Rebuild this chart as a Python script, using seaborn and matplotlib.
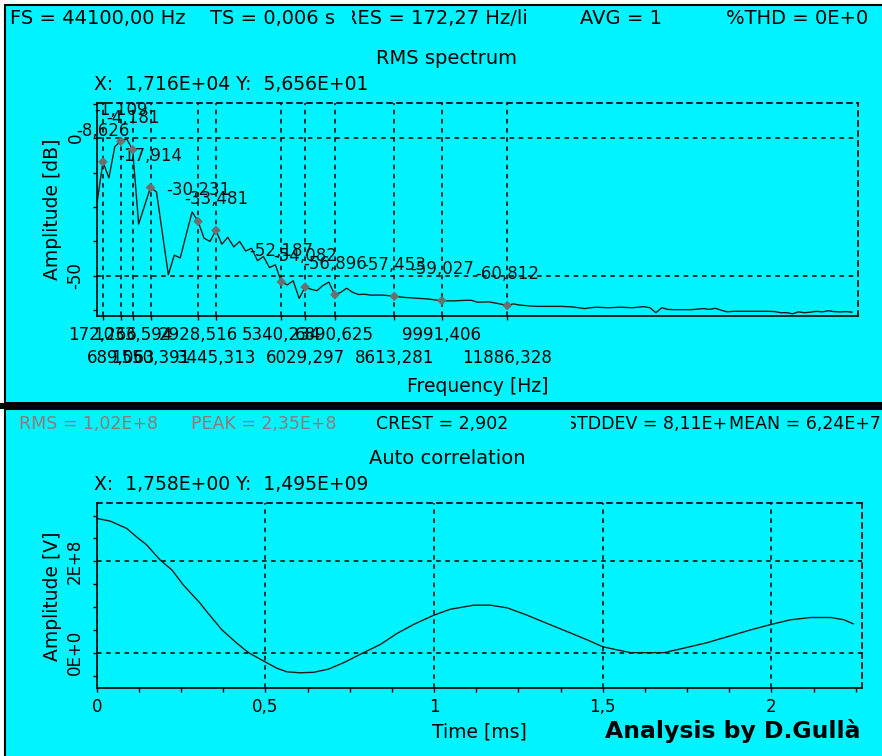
import numpy as np
import pandas as pd
import matplotlib
matplotlib.use("Agg")
import matplotlib.pyplot as plt
import seaborn as sns
from matplotlib.patches import Rectangle
from matplotlib.transforms import Bbox
from matplotlib.ticker import MultipleLocator, FixedLocator, FixedFormatter

# ---------------- data ----------------
fs = 44100.0
n_fft = 256

# RMS spectrum in dB, one value per FFT bin (0 .. 127)
spectrum_db = [
    -23.5, -8.626, -14.4, -3.0, -1.109, -0.3, -4.181, -31.2,
    -24.5, -17.914, -19.5, -34.5, -49.6, -42.5, -43.5, -35.0,
    -26.8, -30.231, -36.3, -37.5, -33.481, -38.5, -36.0, -39.5,
    -37.5, -41.0, -40.0, -44.5, -43.0, -47.0, -46.0, -52.187,
    -53.3, -51.8, -58.2, -54.082, -54.9, -55.4, -53.5, -52.3,
    -56.896, -56.0, -54.5, -56.0, -56.8, -56.7, -57.0, -57.0,
    -57.0, -57.2, -57.453, -57.7, -57.9, -58.0, -58.2, -58.3,
    -58.5, -58.8, -59.027, -59.1, -59.1, -59.0, -58.9, -58.9,
    -59.6, -59.5, -59.5, -59.9, -60.3, -60.812, -60.2, -60.6,
    -60.8, -61.0, -61.1, -61.1, -61.1, -61.1, -61.1, -61.2,
    -61.3, -61.6, -61.9, -61.6, -61.4, -61.5, -61.6, -61.5,
    -61.4, -61.5, -61.6, -61.4, -61.2, -61.6, -63.4, -61.6,
    -62.2, -62.3, -62.3, -62.3, -62.3, -62.1, -61.9, -62.2,
    -61.8, -62.5, -63.1, -62.9, -62.9, -62.9, -62.9, -62.9,
    -62.9, -62.9, -63.0, -63.4, -63.4, -63.8, -63.1, -63.4,
    -63.2, -62.9, -63.1, -62.7, -63.0, -63.1, -63.0, -63.2,
]

# marked harmonics: bin index and level in dB
marker_bins = [1, 4, 6, 9, 17, 20, 31, 35, 40, 50, 58, 69]
marker_db = [-8.626, -1.109, -4.181, -17.914, -30.231, -33.481,
             -52.187, -54.082, -56.896, -57.453, -59.027, -60.812]
marker_freq_labels = ["172,266", "689,063", "1033,594", "1550,391",
                      "2928,516", "3445,313", "5340,234", "6029,297",
                      "6890,625", "8613,281", "9991,406", "11886,328"]

# auto correlation: lag time [ms] and amplitude [x 1E+8]
acf_time_ms = [0.0, 0.04, 0.089, 0.119, 0.148, 0.188, 0.223, 0.257, 0.307,
               0.326, 0.371, 0.415, 0.45, 0.494, 0.534, 0.564, 0.603, 0.643,
               0.687, 0.732, 0.791, 0.841, 0.89, 0.94, 0.999, 1.048, 1.118,
               1.167, 1.217, 1.276, 1.335, 1.395, 1.454, 1.5, 1.543, 1.583,
               1.681, 1.741, 1.81, 1.879, 1.939, 2.0, 2.057, 2.117, 2.176,
               2.215, 2.243]
acf_value_e8 = [2.94, 2.88, 2.72, 2.53, 2.36, 2.03, 1.81, 1.48, 1.08,
                0.90, 0.50, 0.21, 0.0, -0.18, -0.34, -0.42, -0.44, -0.43,
                -0.36, -0.22, 0.0, 0.18, 0.42, 0.62, 0.82, 0.95, 1.04,
                1.04, 0.98, 0.82, 0.64, 0.46, 0.28, 0.13, 0.06, 0.0,
                0.0, 0.10, 0.22, 0.37, 0.50, 0.62, 0.72, 0.77, 0.77,
                0.72, 0.63]

# header read-outs: text, x, alignment, colour, optional horizontal clip range
top_fields = [("FS = 44100,00 Hz", 186, "right", "black", None),
              ("TS = 0,006 s", 210, "left", "black", None),
              ("RES = 172,27 Hz/line", 344, "left", "black", (352, 527)),
              ("AVG = 1", 580, "left", "black", None),
              ("%THD = 0E+0", 726, "left", "black", None)]
stat_fields = [("RMS = 1,02E+8", 19, "left", "#8c7a7a", None),
               ("PEAK = 2,35E+8", 191, "left", "#8c7a7a", None),
               ("CREST = 2,902", 376, "left", "black", None),
               ("STDDEV = 8,11E+7", 566, "left", "black", (571, 728)),
               ("MEAN = 6,24E+7", 881, "right", "black", None)]

# ---------------- style ----------------
sns.set_theme(style="ticks")
plt.rcParams["font.family"] = ["DejaVu Sans"]
plt.rcParams["text.color"] = "black"
plt.rcParams["axes.labelcolor"] = "black"
plt.rcParams["xtick.color"] = "black"
plt.rcParams["ytick.color"] = "black"

CYAN = "#00F4FF"
LINE = "#1e1e1e"
W, H = 882, 756
FS_TICK = 12
FS_HEAD = 14
FS_STAT = 12.5
FS_LABEL = 13.5

fig = plt.figure(figsize=(W / 100, H / 100), dpi=100)
fig.patch.set_facecolor("white")


def fx(x):
    return x / W


def fy(y):
    return 1 - y / H


def panel(x0, y0, x1, y1, face, lw=1.5):
    fig.add_artist(Rectangle((fx(x0), fy(y1)), fx(x1) - fx(x0), fy(y0) - fy(y1),
                             transform=fig.transFigure, facecolor=face,
                             edgecolor="black", lw=lw, zorder=-2))


panel(5, 5, 892, 403, CYAN)
panel(0, 403, 892, 409, "black", lw=0)
panel(5, 409, 892, 760, CYAN)


def ftext(x, y, s, ha="left", color="black", clip=None, fontsize=FS_HEAD, **kw):
    t = fig.text(fx(x), fy(y), s, ha=ha, va="center", color=color,
                 fontsize=fontsize, **kw)
    if clip is not None:
        t.set_clip_box(Bbox.from_extents(clip[0], 0, clip[1], H))
        t.set_clip_on(True)
    return t


for s, x, ha, col, clip in top_fields:
    ftext(x, 18, s, ha=ha, color=col, clip=clip if clip else (3, W))
ftext(447, 58, "RMS spectrum", ha="center")
ftext(94, 85, "X:  1,716E+04 Y:  5,656E+01", fontsize=FS_LABEL)

for s, x, ha, col, clip in stat_fields:
    ftext(x, 424, s, ha=ha, color=col, clip=clip, fontsize=FS_STAT)
ftext(447, 458, "Auto correlation", ha="center")
ftext(94, 484, "X:  1,758E+00 Y:  1,495E+09", fontsize=FS_LABEL)
ftext(605, 731, "Analysis by D.Gullà", fontsize=16.9, fontweight="bold")


def style_axes(ax):
    ax.set_facecolor("none")
    for side in ("left", "bottom"):
        ax.spines[side].set_color("black")
        ax.spines[side].set_linewidth(1.2)
    for side in ("top", "right"):
        ax.spines[side].set_color("black")
        ax.spines[side].set_linewidth(1.2)
        ax.spines[side].set_linestyle((0, (3, 3)))
    ax.grid(True, which="major", color="black", lw=1.1, ls=(0, (3, 3)))
    ax.tick_params(axis="both", which="both", direction="out", length=3,
                   width=1, labelsize=FS_TICK)
    ax.tick_params(axis="x", pad=4)
    ax.tick_params(axis="y", pad=6)
    for lab in ax.get_yticklabels():
        lab.set_rotation(90)
        lab.set_va("center")


# ---------------- RMS spectrum ----------------
ax1 = fig.add_axes([fx(97), fy(316), fx(858) - fx(97), fy(103) - fy(316)])
spec = pd.DataFrame({"freq": np.arange(len(spectrum_db)) * fs / n_fft,
                     "db": spectrum_db})
marks = pd.DataFrame({"freq": np.array(marker_bins) * fs / n_fft,
                      "db": marker_db})
sns.lineplot(data=spec, x="freq", y="db", ax=ax1, color=LINE, lw=1.0)
sns.scatterplot(data=marks, x="freq", y="db", ax=ax1, marker="D", s=24,
                color="#6e6e6e", edgecolor="none", zorder=5)
for f, v in zip(marks["freq"], marks["db"]):
    ax1.annotate(f"{v:.3f}".replace(".", ","), (f, v), xytext=(0, 22.5),
                 textcoords="offset points", ha="center", va="center",
                 fontsize=FS_TICK, color="#111111", annotation_clip=False)
ax1.set_xlim(0, fs / 2)
ax1.set_ylim(-64.6, 12.8)
ax1.xaxis.set_major_locator(FixedLocator(marks["freq"].tolist()))
ax1.xaxis.set_major_formatter(FixedFormatter(
    [s if i % 2 == 0 else "\n" + s for i, s in enumerate(marker_freq_labels)]))
ax1.yaxis.set_major_locator(FixedLocator([-50, 0]))
ax1.yaxis.set_major_formatter(FixedFormatter(["-50", "0"]))
ax1.yaxis.set_minor_locator(MultipleLocator(12.5))
ax1.set_xlabel("Frequency [Hz]", fontsize=FS_LABEL)
ax1.set_ylabel("Amplitude [dB]", fontsize=FS_LABEL)
style_axes(ax1)
for lab in ax1.get_xticklabels():
    lab.set_linespacing(1.35)
ax1.xaxis.set_label_coords(0.5, (316 - 377) / (316 - 103))
ax1.yaxis.set_label_coords((62.5 - 97) / (858 - 97), 0.5)

# ---------------- auto correlation ----------------
ax2 = fig.add_axes([fx(96.7), fy(688.3), fx(861.7) - fx(96.7), fy(503.3) - fy(688.3)])
acf = pd.DataFrame({"t": acf_time_ms, "v": np.array(acf_value_e8) * 1e8})
sns.lineplot(data=acf, x="t", y="v", ax=ax2, color=LINE, lw=1.0)
ax2.set_xlim(0, 100 / fs * 1000)
ax2.set_ylim(-0.78e8, 3.27e8)
ax2.xaxis.set_major_locator(FixedLocator([0, 0.5, 1, 1.5, 2]))
ax2.xaxis.set_major_formatter(FixedFormatter(["0", "0,5", "1", "1,5", "2"]))
ax2.xaxis.set_minor_locator(MultipleLocator(0.125))
ax2.yaxis.set_major_locator(FixedLocator([0, 2e8]))
ax2.yaxis.set_major_formatter(FixedFormatter(["0E+0", "2E+8"]))
ax2.yaxis.set_minor_locator(MultipleLocator(0.5e8))
ax2.set_xlabel("Time [ms]", fontsize=FS_LABEL)
ax2.set_ylabel("Amplitude [V]", fontsize=FS_LABEL)
style_axes(ax2)
ax2.xaxis.set_label_coords(0.5, (688.3 - 723) / (688.3 - 503.3))
ax2.yaxis.set_label_coords((62.5 - 96.7) / (861.7 - 96.7), 0.5)

fig.savefig("out.png", dpi=100, facecolor=fig.get_facecolor())
